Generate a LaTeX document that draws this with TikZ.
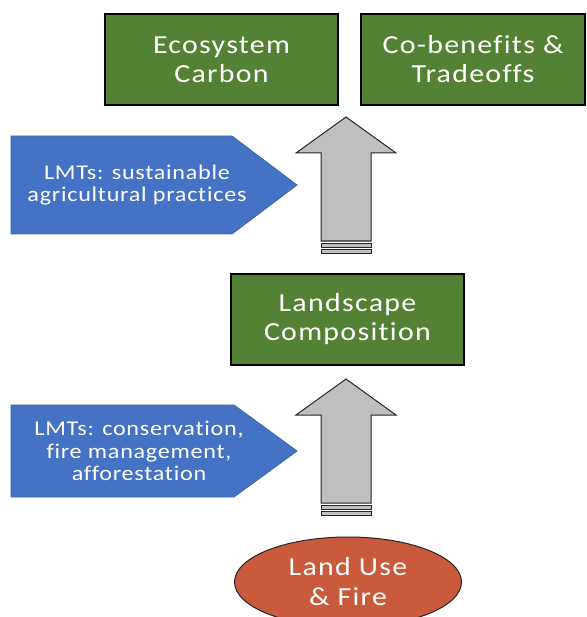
\documentclass[tikz,border=0pt]{standalone}
\usepackage{fontspec}
\setmainfont{Carlito}
\newfontfamily\boxfont{Carlito}[FakeStretch=1.15, LetterSpace=5, Ligatures=NoCommon]
\newfontfamily\lmtfont{Carlito}[FakeStretch=1.15, LetterSpace=3.5, Ligatures=NoCommon]
\usetikzlibrary{shapes.geometric}

\definecolor{boxgreen}{RGB}{84,130,53}
\definecolor{lmtblue}{RGB}{68,114,196}
\definecolor{lmtedge}{RGB}{60,100,165}
\definecolor{landred}{RGB}{201,90,60}
\definecolor{arrowgray}{RGB}{191,191,191}

\begin{document}
\begin{tikzpicture}[x=1pt, y=-1pt,
  outcome/.style={draw=black, line width=1.3pt, fill=boxgreen, text=white, align=center,
                  minimum width=233pt, minimum height=91pt, inner sep=0pt,
                  font=\boxfont\fontsize{26}{29}\selectfont},
  lmtshape/.style={draw=lmtedge, line width=0.8pt, fill=lmtblue},
  lmttext/.style={text=white, align=center, inner sep=0pt,
                  font=\lmtfont\fontsize{21}{22.5}\selectfont},
  blockarrow/.style={draw=black!85, line width=1pt, fill=arrowgray},
  driver/.style={ellipse, draw=black!85, line width=1pt, fill=landred, text=white,
                 align=center, minimum width=227pt, minimum height=90pt, inner sep=0pt,
                 font=\boxfont\fontsize{26}{30}\selectfont}
]
\useasboundingbox (0,0) rectangle (586,617);

% outcomes
\node[outcome] (carbon) at (221.5,59.5) {Ecosystem\\Carbon};
\node[outcome, minimum width=224pt] (cobenefits) at (473,59.5) {Co-benefits \&\\Tradeoffs};
\node[outcome] (landscape) at (347.5,319.5) {Landscape\\Composition};
\node[driver] (landuse) at (348,582) {Land Use\\\& Fire};

% LMT pentagons
\draw[lmtshape] (11,136) -- (232,136) -- (297,185) -- (232,234) -- (11,234) -- cycle;
\node[lmttext] (lmtag) at (137,185) {LMTs: sustainable\\agricultural practices};
\draw[lmtshape] (11,405) -- (234,405) -- (297,451) -- (234,497) -- (11,497) -- cycle;
\node[lmttext] (lmtcons) at (139,451) {LMTs: conservation,\\fire management,\\afforestation};

% upward block arrows
\foreach \t in {117,379} {
  \draw[blockarrow] (321,\t+124) -- (321,\t+36) -- (296,\t+36) -- (346,\t)
    -- (396,\t+36) -- (371,\t+36) -- (371,\t+124) -- cycle;
  \draw[blockarrow] (321,\t+126) rectangle (371,\t+130);
  \draw[blockarrow] (321,\t+132) rectangle (371,\t+136);
}
\end{tikzpicture}
\end{document}
